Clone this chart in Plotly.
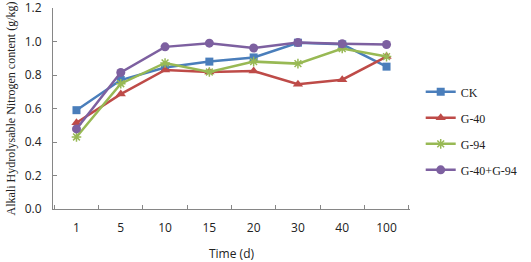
import plotly.graph_objects as go

days = ["1", "5", "10", "15", "20", "30", "40", "100"]
ck = [0.59, 0.77, 0.845, 0.88, 0.905, 0.993, 0.983, 0.85]
g40 = [0.515, 0.686, 0.83, 0.818, 0.824, 0.745, 0.772, 0.91]
g94 = [0.43, 0.748, 0.872, 0.818, 0.88, 0.868, 0.958, 0.91]
g40_94 = [0.478, 0.815, 0.968, 0.99, 0.961, 0.994, 0.986, 0.982]
y_ticks = [0.0, 0.2, 0.4, 0.6, 0.8, 1.0, 1.2]

series = [
    ("CK", ck, "#4A7EBB", "square", 8),
    ("G-40", g40, "#BE4B48", "triangle-up", 9),
    ("G-94", g94, "#98B954", "asterisk-open", 8),
    ("G-40+G-94", g40_94, "#7D60A0", "circle", 9),
]

fig = go.Figure()
for name, vals, color, sym, size in series:
    marker = dict(symbol=sym, size=size, color=color)
    if sym == "asterisk-open":
        marker["line"] = dict(color=color, width=1.5)
    fig.add_trace(go.Scatter(
        x=days, y=vals, name=name, mode="lines+markers", legendgroup=name,
        line=dict(color=color, width=2.5), marker=marker,
    ))

fig.update_layout(
    width=531, height=262,
    margin=dict(l=53, r=108, t=8, b=53),
    paper_bgcolor="white", plot_bgcolor="white",
    font=dict(family="Open Sans", size=12, color="#222"),
    legend=dict(
        x=1.03, y=0.655, xanchor="left", yanchor="top",
        font=dict(family="Liberation Serif", size=12, color="#222"),
        tracegroupgap=7, itemwidth=30,
    ),
    xaxis=dict(
        type="category", showline=True, linecolor="#868686", linewidth=1,
        ticks="inside", tickson="boundaries", ticklen=4, tickcolor="#868686",
        showgrid=False, zeroline=False, automargin=False, ticklabelstandoff=8,
        title=dict(text="Time (d)", font=dict(family="Open Sans", size=12), standoff=17),
    ),
    yaxis=dict(
        range=[0, 1.2001], tickvals=y_ticks, tickformat=".1f",
        showline=True, linecolor="#868686", linewidth=1,
        ticks="inside", ticklen=4, tickcolor="#868686",
        showgrid=False, zeroline=False, automargin=False, ticklabelstandoff=8,
        ticklabeloverflow="allow",
        title=dict(text="Alkali Hydrolysable Nitrogen content (g/kg)",
                   font=dict(family="Liberation Serif", size=12), standoff=6),
    ),
)

fig.write_html("out.html", config={"displayModeBar": False},
               post_script="document.body.style.margin='0';")
